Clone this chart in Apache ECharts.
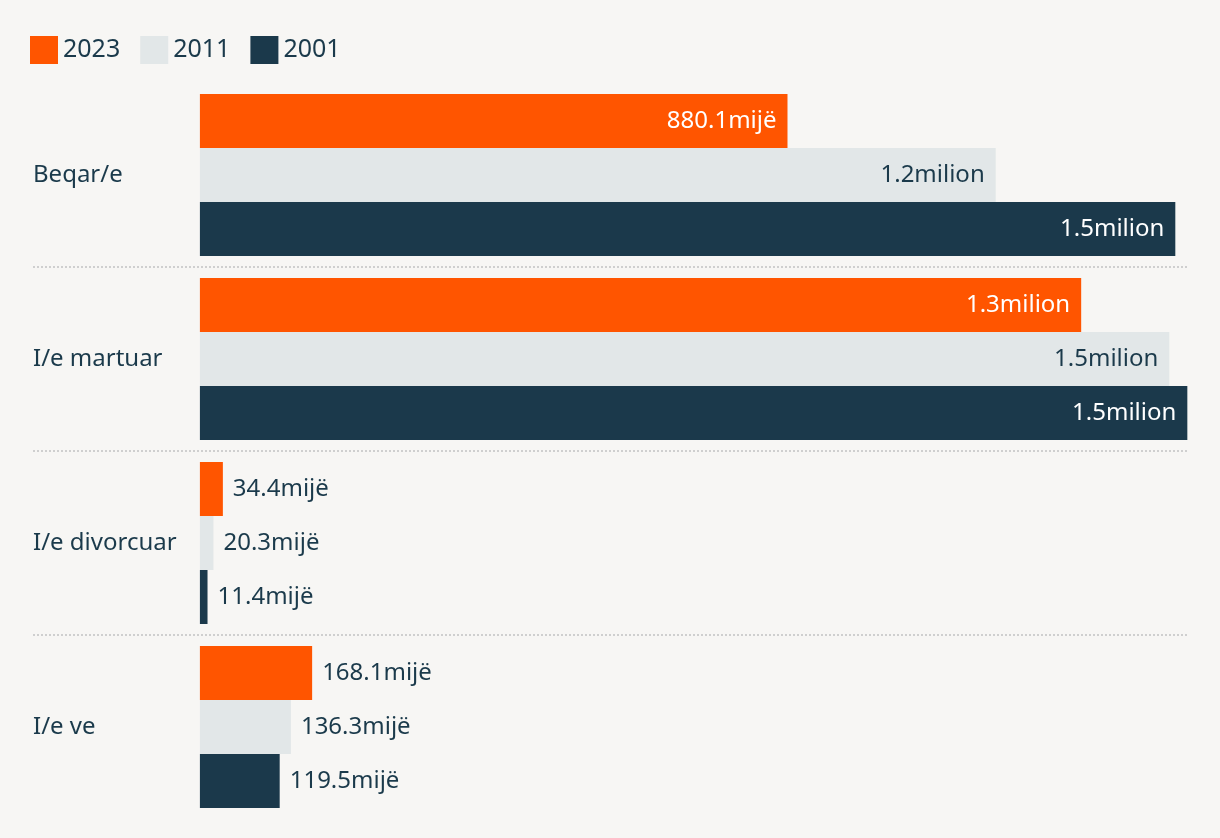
<!DOCTYPE html>
<html>
<head>
<meta charset="utf-8">
<script src="https://cdn.jsdelivr.net/npm/echarts@6/dist/echarts.min.js"></script>
<style>
  html, body { margin: 0; padding: 0; background: #f7f6f4; }
  #chart { width: 1220px; height: 838px; }
</style>
</head>
<body>
<div id="chart"></div>
<script>
// statusi martesor, ne mije
var categories = ["Beqar/e", "I/e martuar", "I/e divorcuar", "I/e ve"];
var years = ["2023", "2011", "2001"];
var values2023 = [880.1, 1320, 34.4, 168.1];
var values2011 = [1192, 1452, 20.3, 136.3];
var values2001 = [1461, 1479, 11.4, 119.5];

var colors = ["#ff5500", "#e2e7e8", "#1b394b"];
var insideText = ["#ffffff", "#1b3a4b", "#ffffff"];
var textColor = "#1b3a4b";
var font = "'Noto Sans', sans-serif";

function fmt(v) {
  if (v >= 1000) return (v / 1000).toFixed(1) + "milion";
  return v.toFixed(1) + "mijë";
}

function makeSeries(name, vals, i) {
  return {
    name: name,
    type: "bar",
    barWidth: 54,
    barGap: "0%",
    itemStyle: { color: colors[i] },
    data: vals.map(function (v) {
      var big = v > 500;
      return {
        value: v,
        label: {
          show: true,
          position: big ? "insideRight" : "right",
          distance: big ? 11 : 10,
          color: big ? insideText[i] : textColor,
          fontSize: 24,
          fontFamily: font,
          formatter: function (p) { return fmt(p.value); }
        }
      };
    })
  };
}

var myChart = echarts.init(document.getElementById("chart"));
myChart.setOption({
  backgroundColor: "#f7f6f4",
  animation: false,
  legend: {
    left: 30,
    top: 36,
    padding: 0,
    itemWidth: 28,
    itemHeight: 28,
    itemGap: 20,
    icon: "rect",
    textStyle: { color: textColor, fontSize: 25, fontFamily: font },
    data: years
  },
  grid: { left: 33, right: 32, top: 83, bottom: 19 },
  xAxis: {
    type: "value",
    min: -250,
    max: 1480,
    show: false
  },
  yAxis: {
    type: "category",
    inverse: true,
    data: categories,
    axisLine: { show: false },
    axisTick: { show: false },
    axisLabel: {
      inside: true,
      margin: 0,
      color: textColor,
      fontSize: 24,
      fontFamily: font
    },
    splitLine: {
      show: true,
      showMinLine: false,
      showMaxLine: false,
      lineStyle: { color: "#cfcfcf", width: 2, type: [2, 2] }
    }
  },
  series: [
    makeSeries("2023", values2023, 0),
    makeSeries("2011", values2011, 1),
    makeSeries("2001", values2001, 2)
  ]
});
</script>
</body>
</html>
